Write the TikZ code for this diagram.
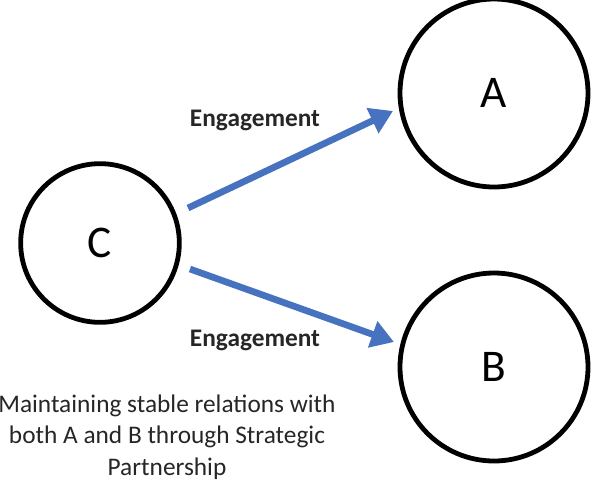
\documentclass[tikz,border=0pt]{standalone}
\usepackage{fontspec}
\setmainfont{Carlito}
\usepackage{xcolor}
\usepackage{tikz}
\usetikzlibrary{arrows.meta, positioning}

\definecolor{engblue}{RGB}{70,114,192}

\begin{document}
\begin{tikzpicture}[
  x=0.75pt, y=-0.75pt,
  party/.style={draw, circle, line width=3.6pt, inner sep=0pt, font=\fontsize{34}{34}\selectfont},
  arrow/.style={-{Triangle[length=17pt, width=20pt]}, line width=5pt, draw=engblue},
  label/.style={font=\fontsize{19}{22}\selectfont\bfseries, text=black!85}
]
\useasboundingbox (0,0) rectangle (593,480);

% Parties
\node[party, minimum size=141pt] (A) at (494, 93) {A};
\node[party, minimum size=141pt] (B) at (494, 367) {B};
\node[party, minimum size=119pt] (C) at (100, 243) {C};

% Engagement arrows
\coordinate (c-up) at (188, 208);
\coordinate (a-in) at (393, 111);
\coordinate (c-down) at (190, 269);
\coordinate (b-in) at (394, 342);
\draw[arrow] (c-up) -- (a-in);
\draw[arrow] (c-down) -- (b-in);

\node[label] (eng-up) at (255, 120) {Engagement};
\node[label] (eng-down) at (255, 340) {Engagement};

% Caption
\node[align=center, font=\fontsize{19}{23.6}\selectfont, text=black!85] (caption) at (167, 437)
  {Maintaining stable relations with\\both A and B through Strategic\\Partnership};

\end{tikzpicture}
\end{document}
